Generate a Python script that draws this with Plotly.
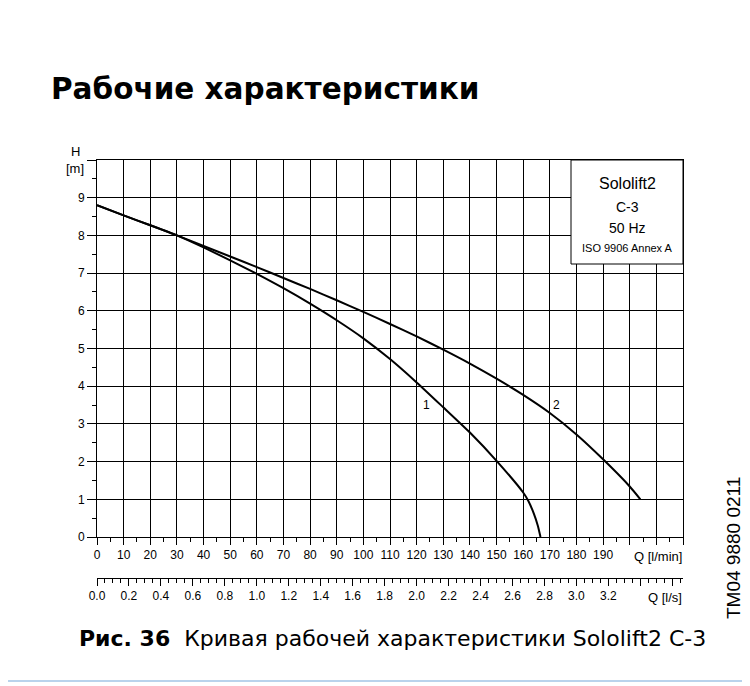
import plotly.graph_objects as go

# pump curves, Q in l/min, H in m
q_curve1 = [0, 10, 20, 30, 40, 50, 60, 70, 80, 90, 100, 110, 120, 130, 140, 150, 160, 162, 164, 165.5, 166.5]
h_curve1 = [8.8, 8.53, 8.27, 8.0, 7.68, 7.34, 6.98, 6.6, 6.19, 5.75, 5.27, 4.72, 4.1, 3.44, 2.77, 2.02, 1.18, 0.95, 0.62, 0.3, 0.0]

q_curve2 = [0, 10, 20, 30, 40, 50, 60, 70, 80, 90, 100, 110, 120, 130, 140, 150, 160, 170, 180, 190, 200, 204]
h_curve2 = [8.8, 8.53, 8.27, 8.0, 7.72, 7.44, 7.16, 6.87, 6.58, 6.28, 5.97, 5.65, 5.32, 4.97, 4.6, 4.2, 3.77, 3.29, 2.72, 2.06, 1.34, 1.0]

q_lmin_ticks = list(range(0, 230, 10))
q_lmin_labels = [str(v) if v <= 190 else "" for v in q_lmin_ticks]
q_ls_ticks = [round(i * 0.2, 1) for i in range(19)]
q_ls_labels = [f"{v:.1f}" if v <= 3.2 else "" for v in q_ls_ticks]
h_ticks = list(range(0, 11))
h_labels = [str(v) if v <= 9 else "" for v in h_ticks]

legend_lines = ["Sololift2", "C-3", "50 Hz", "ISO 9906 Annex A"]

# page has an 8px body margin, figure sits at (8, 8)
OFF = 8
W, H = 750 - OFF, 686 - OFF
L, R, T, B = 97, 683, 160, 578  # plot area in screen pixels


def px(x):
    return (x - L) / (R - L)


def py(y):
    return (B - y) / (B - T)


FONT = "Liberation Sans, Arial, sans-serif"

fig = go.Figure()
for q, h in [(q_curve1, h_curve1), (q_curve2, h_curve2)]:
    fig.add_trace(go.Scatter(
        x=q, y=h, mode="lines",
        line=dict(color="black", width=2, shape="spline", smoothing=0.6),
        showlegend=False, hoverinfo="skip",
    ))

# invisible trace to activate the l/s axis
fig.add_trace(go.Scatter(x=[0, 220 / 60], y=[None, None], xaxis="x2",
                         mode="lines", showlegend=False, hoverinfo="skip"))

axis_common = dict(
    showgrid=True, gridcolor="black", gridwidth=1,
    showline=True, linecolor="black", linewidth=1,
    ticks="outside", tickcolor="black", tickwidth=1,
    tickfont=dict(family=FONT, size=12, color="black"),
    zeroline=False, fixedrange=True,
)

fig.update_layout(
    width=W, height=H,
    margin=dict(l=L - OFF, r=W - (R - OFF), t=T - OFF, b=H - (B - OFF)),
    paper_bgcolor="white", plot_bgcolor="white",
    xaxis=dict(
        axis_common, range=[0, 220], anchor="y", mirror=True,
        tickmode="array", tickvals=q_lmin_ticks, ticktext=q_lmin_labels, ticklen=7,
        minor=dict(dtick=5, ticklen=4, tickcolor="black", showgrid=False, ticks="outside"),
    ),
    xaxis2=dict(
        range=[0, 220 / 60], overlaying="x", anchor="free", position=0, side="bottom",
        showgrid=False, showline=True, linecolor="black", linewidth=1,
        ticks="outside", tickcolor="black", tickwidth=1, ticklen=7,
        tickmode="array", tickvals=q_ls_ticks, ticktext=q_ls_labels,
        tickfont=dict(family=FONT, size=12, color="black"),
        minor=dict(dtick=0.05, ticklen=4, tickcolor="black", ticks="outside"),
        zeroline=False, fixedrange=True,
    ),
    yaxis=dict(
        axis_common, range=[0, 10], domain=[py(537), 1], mirror=True,
        tickmode="array", tickvals=h_ticks, ticktext=h_labels, ticklen=9,
        minor=dict(dtick=0.5, ticklen=4, tickcolor="black", showgrid=False, ticks="outside"),
    ),
)

# model box in the upper right corner
fig.add_shape(type="rect", xref="x", yref="y", x0=(571 - L) / 2.6636, x1=220,
              y0=(537 - 264) / 37.7, y1=10, fillcolor="white",
              line=dict(color="black", width=1), layer="above")

box_cx = px(627)
for text, y, size in zip(legend_lines, [183, 207, 228, 248], [16, 14, 14, 11]):
    fig.add_annotation(x=box_cx, y=py(y), xref="paper", yref="paper", text=text,
                       xanchor="center", yanchor="middle", showarrow=False,
                       font=dict(family=FONT, size=size, color="black"))

# curve numbers
fig.add_annotation(x=123.7, y=3.5, text="1", showarrow=False,
                   font=dict(family=FONT, size=12, color="black"))
fig.add_annotation(x=172.5, y=3.5, text="2", showarrow=False,
                   font=dict(family=FONT, size=12, color="black"))

# axis captions
for text, x, y, anchor in [("H", 75, 152, "center"), ("[m]", 75, 168, "center"),
                           ("Q [l/min]", 684, 556, "right"), ("Q [l/s]", 684, 597, "right")]:
    fig.add_annotation(x=px(x), y=py(y), xref="paper", yref="paper", text=text,
                       xanchor=anchor, yanchor="middle", showarrow=False,
                       font=dict(family=FONT, size=13, color="black"))

fig.add_annotation(x=px(733), y=py(548), xref="paper", yref="paper", text="TM04 9880 0211",
                   textangle=-90, xanchor="center", yanchor="middle", showarrow=False,
                   font=dict(family=FONT, size=19, color="black"))

fig.add_annotation(x=px(49), y=py(89), xref="paper", yref="paper", xanchor="left",
                   yanchor="middle", text="<b>Рабочие характеристики</b>", showarrow=False,
                   font=dict(family="DejaVu Sans, sans-serif", size=29.5, color="black"))

fig.add_annotation(x=px(77), y=py(638), xref="paper", yref="paper", xanchor="left",
                   yanchor="middle",
                   text="<b>Рис. 36</b>  Кривая рабочей характеристики Sololift2 C-3",
                   showarrow=False, font=dict(family="DejaVu Sans, sans-serif", size=22, color="black"))

fig.add_shape(type="line", xref="paper", yref="paper", x0=px(0), x1=px(750),
              y0=py(681), y1=py(681), line=dict(color="#b9d3ec", width=2))

fig.write_html("out.html")
